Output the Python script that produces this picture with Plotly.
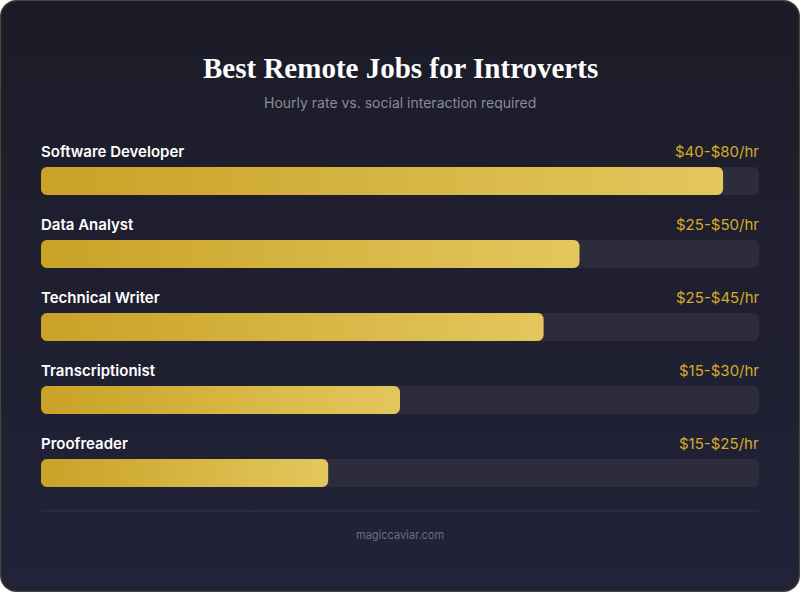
import numpy as np
import plotly.graph_objects as go

# data
jobs = ["Software Developer", "Data Analyst", "Technical Writer", "Transcriptionist", "Proofreader"]
scores = [95, 75, 70, 50, 40]
rates = ["$40-$80/hr", "$25-$50/hr", "$25-$45/hr", "$15-$30/hr", "$15-$25/hr"]

W, H = 800, 592
LEFT, RIGHT = 41, 759
FIRST_BAR, STEP, BAR_H = 181, 73, 28
RADIUS = 6

GOLD_DARK = "#c9a227"
GOLD_LIGHT = "#e3c75d"
TRACK = "#2d2c3d"


def rounded_rect(x0, x1, y0, y1, rx, ry, n=8):
    """Polygon for a rounded rectangle, rx/ry are corner radii in axis units."""
    t = np.linspace(0, np.pi / 2, n)
    xs, ys = [], []
    corners = [
        (x1 - rx, y0 + ry, -np.pi / 2),
        (x1 - rx, y1 - ry, 0),
        (x0 + rx, y1 - ry, np.pi / 2),
        (x0 + rx, y0 + ry, np.pi),
    ]
    for cx, cy, a0 in corners:
        xs += list(cx + rx * np.cos(a0 + t))
        ys += list(cy + ry * np.sin(a0 + t))
    xs.append(xs[0])
    ys.append(ys[0])
    return xs, ys


fig = go.Figure()

# card background on the pixel axes (x/y), drawn first
cx, cy = rounded_rect(0.5, W - 0.5, 0.5, H - 0.5, 16, 16, n=12)
fig.add_trace(go.Scatter(
    x=cx, y=cy, mode="lines", fill="toself",
    line=dict(color="#4d4536", width=1.2),
    fillgradient=dict(type="vertical", colorscale=[[0, "#222239"], [1, "#1c1c28"]]),
    hoverinfo="skip", showlegend=False,
))

# bars on the data axes (x2/y2)
px_per_unit = (RIGHT - LEFT) / 100.0
rx = RADIUS / px_per_unit

for i, (job, val, rate) in enumerate(zip(jobs, scores, rates)):
    yc = FIRST_BAR + STEP * i
    y0, y1 = yc - BAR_H / 2, yc + BAR_H / 2
    tx, ty = rounded_rect(0, 100, y0, y1, rx, RADIUS)
    fig.add_trace(go.Scatter(
        x=tx, y=ty, xaxis="x2", yaxis="y2", mode="lines", fill="toself", fillcolor=TRACK,
        line=dict(width=0), hoverinfo="skip", showlegend=False,
    ))
    bx, by = rounded_rect(0, val, y0, y1, rx, RADIUS)
    fig.add_trace(go.Scatter(
        x=bx, y=by, xaxis="x2", yaxis="y2", mode="lines", fill="toself",
        fillgradient=dict(type="horizontal", colorscale=[[0, GOLD_DARK], [1, GOLD_LIGHT]]),
        line=dict(width=0), hoverinfo="skip", showlegend=False,
    ))
    fig.add_annotation(x=0, y=y0 - 16, xref="x2", yref="y2", text=job, showarrow=False,
                       xanchor="left", yanchor="middle", xshift=-2,
                       font=dict(family="Inter", size=15, color="#ffffff", weight=600))
    fig.add_annotation(x=100, y=y0 - 16, xref="x2", yref="y2", text=rate, showarrow=False,
                       xanchor="right", yanchor="middle", xshift=2,
                       font=dict(family="Inter", size=15, color="#d4ac2b"))

# title, subtitle, footer
fig.add_annotation(x=400, y=68, text="<b>Best Remote Jobs for Introverts</b>",
                   showarrow=False, font=dict(family="Liberation Serif", size=29, color="#ffffff"))
fig.add_annotation(x=400, y=102, text="Hourly rate vs. social interaction required",
                   showarrow=False, font=dict(family="Inter", size=14, color="#8b8b9a"))
fig.add_annotation(x=400, y=535, text="magiccaviar.com",
                   showarrow=False, font=dict(family="Inter", size=11, color="#6e6e80"))
fig.add_shape(type="line", x0=LEFT, x1=RIGHT, y0=511, y1=511,
              line=dict(color="#34344a", width=1))

fig.update_layout(
    width=W, height=H,
    margin=dict(l=0, r=0, t=0, b=0),
    paper_bgcolor="#ffffff", plot_bgcolor="rgba(0,0,0,0)",
    xaxis=dict(domain=[0, 1], range=[0, W], visible=False, fixedrange=True),
    yaxis=dict(domain=[0, 1], range=[H, 0], visible=False, fixedrange=True),
    xaxis2=dict(domain=[LEFT / W, RIGHT / W], range=[0, 100], visible=False, fixedrange=True,
                anchor="y2"),
    yaxis2=dict(domain=[0, 1], range=[H, 0], visible=False, fixedrange=True, anchor="x2"),
    showlegend=False,
)

fig.write_html("out.html", config={"displayModeBar": False},
               post_script="document.body.style.margin='0';")
